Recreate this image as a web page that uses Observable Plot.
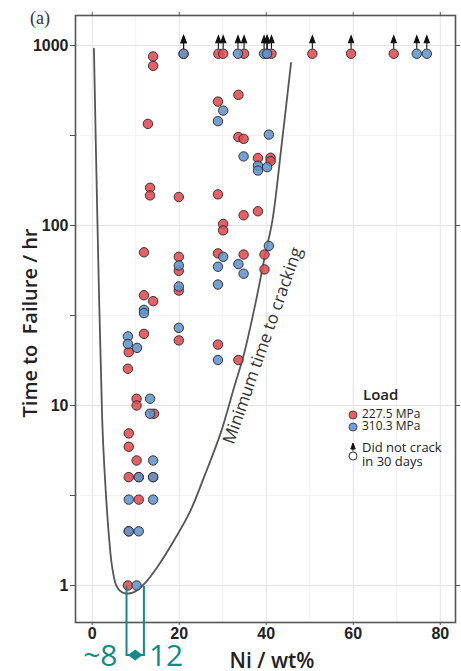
<!DOCTYPE html>
<html>
<head>
<meta charset="utf-8">
<script src="https://cdn.jsdelivr.net/npm/d3@7"></script>
<script src="https://cdn.jsdelivr.net/npm/@observablehq/plot@0.6"></script>
<style>
  html, body { margin: 0; padding: 0; background: #fff; }
  #chart { width: 461px; height: 671px; overflow: hidden; }
</style>
</head>
<body>
<div id="chart"></div>
<script>
// Time to failure (hours) against nickel content (wt%), two applied loads.
// Each entry is [Ni wt%, hours].
const cracked227 = [
  [14.0, 869], [14.0, 771], [12.8, 367], [33.6, 532], [28.9, 488], [33.6, 310],
  [34.8, 303], [38.1, 237], [41.0, 238], [41.0, 228], [13.3, 162], [13.3, 147],
  [19.9, 144], [28.9, 149], [34.8, 114], [38.1, 120], [30.1, 102], [30.1, 94],
  [11.9, 71], [19.9, 67], [19.9, 56], [28.9, 70], [34.8, 69], [39.6, 69],
  [39.6, 57], [11.9, 41], [14.0, 38], [19.9, 43.5], [19.9, 23], [11.9, 25],
  [8.4, 19.8], [8.2, 16], [28.9, 21.8], [33.6, 17.9], [10.2, 10.9], [10.2, 10],
  [14.2, 9.0], [8.4, 7.0], [8.4, 5.9], [10.2, 4.95], [8.4, 4.0], [10.7, 4.0],
  [14.0, 4.0], [10.7, 3.0], [8.4, 2.0], [8.2, 1.0]
];
const cracked310 = [
  [30.1, 435], [28.9, 380], [40.6, 320], [34.8, 242], [38.1, 215], [38.1, 202],
  [40.2, 211], [19.9, 60], [30.1, 67], [40.6, 77], [28.9, 59], [33.6, 61],
  [34.8, 54], [28.9, 47], [11.9, 34], [11.9, 32.6], [19.9, 45.8], [19.9, 27],
  [8.2, 24.2], [8.2, 22], [10.3, 20.9], [28.9, 17.9], [13.3, 10.9], [13.3, 9.0],
  [14.0, 4.95], [10.7, 4.0], [14.0, 4.0], [8.4, 3.0], [14.0, 3.0], [8.4, 2.0],
  [10.7, 2.0], [10.2, 1.0]
];
// Specimens that did not crack within 30 days
const uncracked227 = [[21.0, 900], [29.0, 900], [30.1, 900], [34.9, 900], [40.2, 900],
  [41.2, 900], [50.6, 900], [59.5, 900], [69.3, 900]];
const uncracked310 = [[21.0, 900], [33.5, 900], [39.5, 900], [40.2, 900], [74.6, 900], [76.9, 900]];

// Minimum time to cracking envelope
const minTimeCurve = [
  [0.4, 960], [1.2, 105], [2.3, 8.3], [2.8, 4.5], [3.8, 1.94], [4.6, 1.26],
  [5.7, 0.98], [7.3, 0.906], [9.6, 0.918], [12.3, 1.04], [14.9, 1.26], [18.8, 1.78],
  [22.6, 2.61], [25.7, 4.0], [29.5, 7.0], [32.6, 12.6], [34.9, 19.4], [37.5, 36.7],
  [39.8, 69.6], [41.4, 106], [43.5, 275], [45.7, 800]
];
const curveLabel = [{ni: 39.2, hours: 21.5, text: "Minimum time to cracking"}];

const xTicks = [0, 20, 40, 60, 80];
const xMinor = [10, 30, 50, 70];
const yTicks = [1, 10, 100, 1000];
const yMinor = [3.1623, 31.623, 316.23];
const nickelRange = [8, 12];
const nickelRangeLabels = ["~8", "12"];

const RED = "#e14b51";
const BLUE = "#5f95cc";
const EDGE = "#3a2f33";

// upward arrow drawn above a point
const arrowSymbol = {
  draw(ctx) {
    ctx.moveTo(0, -5); ctx.lineTo(0, -11);
    ctx.moveTo(0, -18); ctx.lineTo(2.6, -11); ctx.lineTo(-2.6, -11); ctx.closePath();
  }
};

const ni = d => d[0], hr = d => d[1];
const dotStyle = {x: ni, y: hr, r: 4.7, strokeWidth: 1, stroke: EDGE, fillOpacity: 0.88};

const plot = Plot.plot({
  width: 461,
  height: 671,
  marginTop: 15,
  marginRight: 6,
  marginBottom: 49,
  marginLeft: 75,
  style: {fontFamily: "'Liberation Sans', Arial, sans-serif", background: "#fff", color: "#222"},
  x: {domain: [-3.84, 83.5]},
  y: {type: "log", domain: [0.623, 1468]},
  marks: [
    Plot.gridX(xMinor, {stroke: "#f2f2f2", strokeOpacity: 1}),
    Plot.gridY(yMinor, {stroke: "#f2f2f2", strokeOpacity: 1}),
    Plot.gridX(xTicks, {stroke: "#e3e3e3", strokeOpacity: 1}),
    Plot.gridY(yTicks, {stroke: "#e3e3e3", strokeOpacity: 1}),
    Plot.line(minTimeCurve, {x: ni, y: hr, curve: "catmull-rom", stroke: "#555", strokeWidth: 1.8}),
    Plot.text(curveLabel, {x: "ni", y: "hours", text: "text", rotate: -70.6, fontSize: 17,
      fontFamily: "'Open Sans', sans-serif", fill: "#333"}),
    Plot.dot(cracked227, {...dotStyle, fill: RED}),
    Plot.dot(cracked310, {...dotStyle, fill: BLUE}),
    Plot.dot(uncracked227, {...dotStyle, fill: RED}),
    Plot.dot(uncracked310, {...dotStyle, fill: BLUE}),
    Plot.dot([...uncracked227, ...uncracked310], {x: ni, y: hr, symbol: arrowSymbol, fill: "#111", stroke: "#111", strokeWidth: 1.1}),
    Plot.axisX({ticks: xTicks, tickSize: 3, tickPadding: 2, fontSize: 16, fontWeight: "bold", label: null, stroke: "#555"}),
    Plot.axisX({anchor: "top", ticks: xTicks, tickSize: 4, tickFormat: () => "", label: null, stroke: "#555"}),
    Plot.axisY({ticks: yTicks, tickFormat: d3.format("d"), tickSize: 5, tickPadding: 2, fontSize: 16, fontWeight: "bold", label: null, stroke: "#555"}),
    Plot.axisY({ticks: yMinor, tickFormat: () => "", tickSize: 5, label: null, stroke: "#555"}),
    Plot.axisY({anchor: "right", ticks: yTicks, tickFormat: () => "", tickSize: 4, label: null, stroke: "#555"}),
    Plot.frame({stroke: "#555", strokeWidth: 1.6})
  ]
});

document.getElementById("chart").appendChild(plot);

const svg = d3.select(plot).style("overflow", "visible");
const sx = plot.scale("x"), sy = plot.scale("y");

// panel tag
svg.append("text").attr("x", 30).attr("y", 24).attr("text-anchor", "start")
  .style("font", "18px 'Liberation Serif', 'Times New Roman', serif").attr("fill", "#333").text("(a)");

// axis titles
svg.append("text").attr("transform", "translate(32,323) rotate(-90)").attr("text-anchor", "middle")
  .attr("dominant-baseline", "middle")
  .style("font", "600 20px 'Open Sans', sans-serif").style("white-space", "pre").attr("fill", "#222")
  .text("Time to  Failure / hr");
svg.append("text").attr("x", 272).attr("y", 668).attr("text-anchor", "middle")
  .style("font", "600 21px 'Open Sans', sans-serif").attr("fill", "#222").text("Ni / wt%");

// legend
const lg = svg.append("g").attr("transform", "translate(353,0)").attr("text-anchor", "start");
lg.append("text").attr("x", 10).attr("y", 400)
  .style("font", "600 15px 'Open Sans', sans-serif").attr("fill", "#222").text("Load");
[[RED, "227.5 MPa", 415], [BLUE, "310.3 MPa", 427]].forEach(([c, t, y]) => {
  lg.append("circle").attr("cx", 0).attr("cy", y).attr("r", 4).attr("fill", c)
    .attr("fill-opacity", 0.88).attr("stroke", EDGE).attr("stroke-width", 0.8);
  lg.append("text").attr("x", 9).attr("y", y).attr("dominant-baseline", "middle")
    .style("font", "12px 'Open Sans', sans-serif").attr("fill", "#222").text(t);
});
lg.append("path").attr("d", "M0,451V448M0,443L2.2,449L-2.2,449Z").attr("fill", "#111").attr("stroke", "#111").attr("stroke-width", 1);
lg.append("circle").attr("cx", 0).attr("cy", 456).attr("r", 4).attr("fill", "#fff").attr("stroke", "#333").attr("stroke-width", 1);
lg.append("text").attr("x", 9).attr("y", 449).attr("dominant-baseline", "middle")
  .style("font", "13px 'Open Sans', sans-serif").attr("fill", "#222").text("Did not crack");
lg.append("text").attr("x", 9).attr("y", 463).attr("dominant-baseline", "middle")
  .style("font", "13px 'Open Sans', sans-serif").attr("fill", "#222").text("in 30 days");

// nickel range marker below the curve minimum
const TEAL = "#13898a";
const xl = sx.apply(nickelRange[0]), xr = sx.apply(nickelRange[1]);
const yTop = sy.apply(1) + 1, yBot = 655;
const ann = svg.append("g").attr("stroke", TEAL).attr("fill", TEAL);
ann.append("path").attr("fill", "none").attr("stroke-width", 2)
  .attr("d", `M${xl},${yTop}V${yBot}H${xr}V${yTop}`);
const mid = (xl + xr) / 2, hw = (xr - xl) * 0.42;
ann.append("path").attr("stroke", "none")
  .attr("d", `M${mid - hw},${yBot}L${mid},${yBot - 5.5}L${mid + hw},${yBot}L${mid},${yBot + 5.5}Z`);
svg.append("text").attr("x", xl - 9).attr("y", 666).attr("text-anchor", "end")
  .style("font", "30px 'Open Sans', sans-serif").attr("fill", TEAL).text(nickelRangeLabels[0]);
svg.append("text").attr("x", xr + 5).attr("y", 666).attr("text-anchor", "start")
  .style("font", "30px 'Open Sans', sans-serif").attr("fill", TEAL).text(nickelRangeLabels[1]);
</script>
</body>
</html>
